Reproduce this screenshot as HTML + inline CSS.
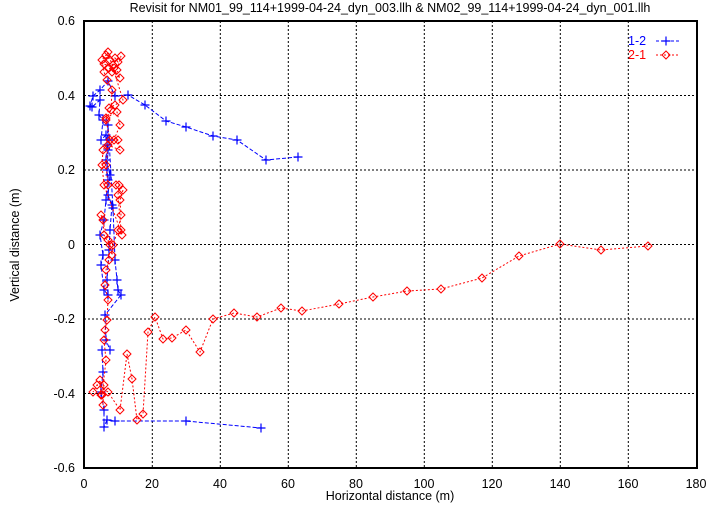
<!DOCTYPE html>
<html><head><meta charset="utf-8"><style>body{margin:0;background:#fff}svg{display:block}text{font-family:"Liberation Sans",sans-serif;font-size:12.5px}</style></head><body>
<svg width="721" height="505" xmlns="http://www.w3.org/2000/svg">
<defs>
<path id="pl" d="M-4.5,0H4.5M0,-4.5V4.5" stroke="#00f" stroke-width="1.2" fill="none"/>
<path id="dm" d="M-4,0L0,-4L4,0L0,4Z" stroke="#f00" stroke-width="1" fill="none"/>
</defs>
<g stroke="#000" stroke-dasharray="2,2" stroke-width="1">
<line x1="152.3" y1="21" x2="152.3" y2="468"/><line x1="220.3" y1="21" x2="220.3" y2="468"/><line x1="288.3" y1="21" x2="288.3" y2="468"/><line x1="356.3" y1="21" x2="356.3" y2="468"/><line x1="424.3" y1="21" x2="424.3" y2="468"/><line x1="492.3" y1="21" x2="492.3" y2="468"/><line x1="560.3" y1="21" x2="560.3" y2="468"/><line x1="628.3" y1="21" x2="628.3" y2="468"/>
<line x1="84" y1="95.5" x2="697" y2="95.5"/><line x1="84" y1="170" x2="697" y2="170"/><line x1="84" y1="244.5" x2="697" y2="244.5"/><line x1="84" y1="319" x2="697" y2="319"/><line x1="84" y1="393.5" x2="697" y2="393.5"/>
</g>
<rect x="84" y="21" width="613" height="447" fill="none" stroke="#000" stroke-width="2"/>
<g text-anchor="end"><text x="75" y="25">0.6</text><text x="75" y="100">0.4</text><text x="75" y="174">0.2</text><text x="75" y="249">0</text><text x="75" y="323">-0.2</text><text x="75" y="398">-0.4</text><text x="75" y="472">-0.6</text></g>
<g text-anchor="middle"><text x="84" y="488">0</text><text x="152" y="488">20</text><text x="220" y="488">40</text><text x="288" y="488">60</text><text x="356" y="488">80</text><text x="424" y="488">100</text><text x="492" y="488">120</text><text x="560" y="488">140</text><text x="628" y="488">160</text><text x="696" y="488">180</text>
<text x="390" y="500">Horizontal distance (m)</text><text x="390" y="12">Revisit for NM01_99_114+1999-04-24_dyn_003.llh &amp; NM02_99_114+1999-04-24_dyn_001.llh</text></g>
<text transform="translate(19,245) rotate(-90)" text-anchor="middle">Vertical distance (m)</text>
<text x="628" y="45" fill="#00f">1-2</text><text x="628" y="59" fill="#f00">2-1</text>
<line x1="656" y1="41" x2="680" y2="41" stroke="#00f" stroke-dasharray="3,2"/><use href="#pl" x="666" y="41"/>
<line x1="656" y1="55" x2="680" y2="55" stroke="#f00" stroke-dasharray="2,2"/><use href="#dm" x="666" y="55"/>
<polyline fill="none" stroke="#00f" stroke-dasharray="4,2" points="298,157 266,160 237,140 213,136 186,127 166,121 145,105 128,95 115,96 108,81 100,90 93,96 90,106 92,107 100,100 99,115 103,120 101,140 106,135 108,150 107,170 108,180 106,200 104,220 100,235 103,255 101,265 104,290 108,295 107,280 109,250 110,230 112,205 108,195 110,175 106,160 107,145 108,125 109,140 113,208 115,260 117,280 118,290 121,295 105,315 106,340 110,350 102,350 103,372 101,392 104,410 104,427 107,420 115,421 186,421 261,428"/>
<g id="bm"></g>
<polyline fill="none" stroke="#f00" stroke-dasharray="2,2" points="648,246 601,250 560,244 519,256 482,278 441,289 407,291 373,297 339,304 302,311 281,308 257,317 234,313 213,319 200,352 186,330 172,338 163,339 155,317 148,332 143,414 137,420 132,379 127,354 120,410 108,392 97,385 93,392 100,380 101,395 103,405 104,385 102,395 106,360 104,340 105,330 107,320 108,300 105,285 106,270 109,260 110,245 104,235 103,220 101,215 108,240 112,255 113,245 118,230 121,215 120,200 123,190 119,185 118,195 121,230 122,235 104,185 102,165 103,150 110,140 106,120 111,110 112,90 107,80 104,72 102,60 106,55 110,60 113,65 115,58 118,62 121,56 117,70 120,78 109,68 112,72 114,68 104,64 108,52 123,100 115,105 109,108 106,118 117,112 120,125 114,140 118,140 120,150 108,145 106,165 108,185 116,185"/>
<g id="rm"></g>
<script>
var s=document.querySelectorAll('polyline');
[['bm','#pl',0],['rm','#dm',1]].forEach(function(a){var g=document.getElementById(a[0]);var p=s[a[2]].getAttribute('points').trim().split(/\s+/);p.forEach(function(q){var c=q.split(',');var u=document.createElementNS('http://www.w3.org/2000/svg','use');u.setAttribute('href',a[1]);u.setAttribute('x',c[0]);u.setAttribute('y',c[1]);g.appendChild(u);});});
</script>
</svg>
</body></html>
